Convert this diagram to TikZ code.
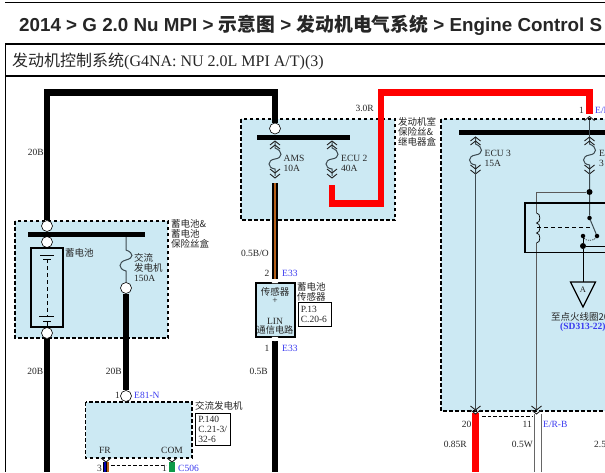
\documentclass[tikz,border=0pt]{standalone}
\usepackage{fontspec}
\setmainfont{Liberation Serif}
\setsansfont{Liberation Sans}
\newfontfamily\cjk{Noto Sans CJK SC}
\usepackage{xcolor}
\definecolor{boxblue}{HTML}{CCE9F3}
\definecolor{labelblue}{HTML}{3A3AF0}
\definecolor{wirered}{HTML}{FF0000}
\definecolor{wirebrown}{HTML}{B5601A}
\definecolor{wiregreen}{HTML}{0E9A48}
\definecolor{wirefine}{HTML}{3C4A50}
\tikzset{
  sheetline/.style={line width=#1,black},
  dashbox/.style={draw=black,fill=boxblue,line width=1.2pt,dash pattern=on 3.5pt off 2.5pt},
  blackwire/.style={line width=6.5pt,black},
  redwire/.style={line width=6.5pt,wirered},
  finewire/.style={line width=1pt,wirefine},
  busbar/.style={line width=5pt,black},
  term/.style={circle,draw=black,fill=white,line width=0.6pt,minimum size=11pt,inner sep=0},
  jdot/.style={circle,fill=black,minimum size=#1,inner sep=0},
  txt/.style={anchor=west,inner sep=0,text=black!85,font=\fontsize{9.5}{10}\selectfont,align=left},
  txtr/.style={txt,anchor=east},
  txtc/.style={txt,anchor=center,align=center},
  pin/.style={txt,text=labelblue},
  refbox/.style={draw=black,fill=white,line width=0.7pt},
  chevup/.pic={\draw[line width=0.9pt,black!85] (-5,4) -- (0,0) -- (5,4);},
  chevdown/.pic={\draw[line width=0.9pt,black!85] (-5,-4) -- (0,0) -- (5,-4);},
  fuse/.pic={
    \draw[finewire] (0,0) -- (0,7) .. controls (8,10) and (8,17) .. (0,18)
      .. controls (-8,19) and (-8,27) .. (0,28) -- (0,35);
    \pic at (0,0) {chevup};
    \pic at (0,4) {chevup};
    \pic at (0,32) {chevdown};
    \pic at (0,37) {chevdown};
  }
}
\begin{document}
\begin{tikzpicture}[x=1pt,y=-1pt]
\clip (0,0) rectangle (605,472);
\fill[white] (0,0) rectangle (605,472);
\draw[sheetline=1pt] (5,2.5) -- (605,2.5);
\draw[sheetline=1.5pt] (5,44) -- (605,44);
\draw[sheetline=2pt] (5,76) -- (605,76);
\draw[sheetline=0.8pt] (5.5,44) -- (5.5,472);
\node[anchor=west,inner sep=0,text=black!85,font=\sffamily\bfseries\fontsize{18.8}{19}\selectfont] (title) at (19,25) {2014 > G 2.0 Nu MPI > {\cjk 示意图} > {\cjk 发动机电气系统} > Engine Control S};
\node[anchor=west,inner sep=0,text=black!85,font=\fontsize{16}{17}\selectfont] (subtitle) at (12,61.5) {{\cjk 发动机控制系统}(G4NA: NU 2.0L MPI A/T)(3)};

\draw[dashbox] (241,119) rectangle (395,220);
\draw[dashbox] (15,221) rectangle (168,338);
\draw[dashbox] (441,119) rectangle (620,411);
\draw[dashbox] (85.5,402) rectangle (192,458);

\node[term] (batin) at (47,226) {};
\node[term] (batbus) at (47,242) {};
\node[term] (batout) at (47,333) {};
\node[term] (altfuse) at (126,288) {};
\node[term] (altpin) at (126,396) {};
\node[term] (amsin) at (275,128.5) {};
\coordinate (cornerA) at (47,92.5);
\coordinate (cornerB) at (275,92.5);
\coordinate (ecuout) at (332,185);
\coordinate (cornerC) at (332,203.5);
\coordinate (cornerD) at (381,203.5);
\coordinate (cornerE) at (381,92.5);
\coordinate (cornerF) at (589.5,92.5);
\coordinate (erin) at (589.5,114);
\coordinate (amsout) at (275,183);
\coordinate (sensin) at (275,279);
\coordinate (sensout) at (275,341);
\coordinate (ecuthreeend) at (475.5,411);
\coordinate (coilend) at (536.5,411);
\coordinate (frend) at (106,462);
\coordinate (comend) at (172,462);

\draw[blackwire] (batin) -- (cornerA) -- (cornerB) -- (amsin);
\draw[blackwire] (batout) -- (47,472);
\draw[blackwire] (altfuse) -- (altpin);
\draw[blackwire] (sensout) -- (275,472);
\draw[blackwire] (amsout) -- (sensin);
\draw[line width=2.4pt,wirebrown] (amsout) -- (sensin);
\draw[redwire,line join=miter] (ecuout) -- (cornerC) -- (cornerD) -- (cornerE) -- (cornerF) -- (erin);
\draw[redwire] (475.5,413) -- (475.5,472);
\draw[line width=0.7pt,black!60] (534.3,414) -- (534.3,472);
\draw[line width=0.7pt,black!60] (541,414) -- (541,472);
\draw[line width=6pt,black] (frend) -- (106,472);
\draw[line width=2pt,blue!70!black] (104.5,462) -- (104.5,472);
\draw[line width=2pt,wirebrown] (107.5,462) -- (107.5,472);
\draw[line width=6pt,wiregreen] (comend) -- (172,472);
\draw[line width=0.7pt,dash pattern=on 3.5pt off 2pt] (111,465) -- (166,465);
\draw[line width=0.7pt,dash pattern=on 3.5pt off 2pt] (482,416) -- (533,416);

\draw[busbar] (257,137) -- (350,137);
\draw[busbar] (28,234.5) -- (145,234.5);
\draw[busbar] (459,132.5) -- (605,132.5);

\pic at (275,141) {fuse};
\pic at (332,141) {fuse};
\pic at (475.5,137) {fuse};
\pic at (589.5,137) {fuse};
\pic at (589.5,116.5) {chevup};
\draw[finewire] (589.5,120) -- (589.5,137);
\draw[finewire] (126,237) -- (126,250) .. controls (134,253) and (134,258) .. (126,260) .. controls (118,262) and (118,269) .. (126,271) -- (altfuse);

\draw[line width=1.2pt,fill=boxblue] (256,283) rectangle (295,337);
\draw[fill=white,white] (272,283) -- (275,279.5) -- (278,283) -- cycle;
\draw[fill=white,white] (272,337) -- (275,341) -- (278,337) -- cycle;

\draw[line width=1.2pt] (31,248) rectangle (63,327);
\draw[line width=0.7pt] (40,255.5) -- (54,255.5);
\draw[line width=0.7pt] (43,259) -- (51,259);
\draw[line width=0.7pt,dash pattern=on 4pt off 3pt] (47,259) -- (47,316);
\draw[line width=0.7pt] (39,316) -- (54,316);
\draw[line width=0.7pt] (43,321) -- (51,321);
\draw[line width=0.7pt] (47,321) -- (47,327);

\node[jdot=6pt] (relayfeed) at (589.5,192) {};
\node[jdot=4.5pt] (swtop) at (589.5,218) {};
\node[jdot=4.5pt] (swend) at (597,236) {};
\node[jdot=4.5pt] (swrest) at (583,236) {};
\node[jdot=6pt] (swout) at (583,246) {};
\coordinate (relaycorner) at (536.5,192);
\coordinate (coiltop) at (536.5,213);
\coordinate (coilbot) at (536.5,243);
\coordinate (gndtop) at (583,282);
\draw[finewire] (475.5,172) -- (ecuthreeend);
\draw[line width=1pt,black!65] (relayfeed) -- (relaycorner) -- (coiltop);
\draw[line width=1pt,black!65] (coilbot) -- (coilend);
\draw[finewire] (589.5,172) -- (relayfeed) -- (swtop) -- (swend);
\draw[line width=1.3pt] (525,203) rectangle (620,252.7);
\draw[line width=0.7pt] (coiltop) .. controls (541,213) and (541,223) .. (536.5,223) .. controls (541,223) and (541,233) .. (536.5,233) .. controls (541,233) and (541,243) .. (coilbot);
\draw[line width=0.7pt,dash pattern=on 4pt off 3pt] (537,227) -- (590,227);
\draw[line width=0.6pt,dash pattern=on 1.2pt off 1pt] (swrest) .. controls (585,241) and (594,241) .. (swend);
\draw[line width=0.9pt] (swout) -- (620,246);
\draw[line width=0.9pt] (swrest) -- (swout);
\draw[line width=1.2pt,line join=miter] (570.5,282) -- (595.5,282) -- (583,307) -- cycle;
\node[txtc,font=\fontsize{8.5}{9}\selectfont] (coilgndlbl) at (583,290) {A};
\draw[line width=0.9pt] (swout) -- (gndtop);

\pic at (475.5,410) {chevdown};
\pic at (536.5,410) {chevdown};
\pic at (475.5,414) {chevdown};
\pic at (536.5,414) {chevdown};
\pic at (106,462) {chevdown};
\pic at (172,462) {chevdown};

\node[txtr] (ltwenty) at (44,152) {20B};
\node[txtr] (rcur) at (374,108.5) {3.0R};
\node[txt] (boxengine) at (398,131.5) {{\cjk 发动机室}\\{\cjk 保险丝\&}\\{\cjk 继电器盒}};
\node[txt] (amslbl) at (283.5,163) {AMS\\10A};
\node[txt] (ecutwolbl) at (341,163) {ECU 2\\40A};
\node[txt] (ecuthreelbl) at (484.5,158.5) {ECU 3\\15A};
\node[txt] (ecuonelbl) at (599,158.5) {E\\3};
\node[txtr] (erone) at (584,110) {1};
\node[pin] (erpin) at (595,110) {E/R};
\node[txt] (batbox) at (171,233.5) {{\cjk 蓄电池\&}\\{\cjk 蓄电池}\\{\cjk 保险丝盒}};
\node[txt] (batlbl) at (65,253) {\cjk 蓄电池};
\node[txt] (altfuselbl) at (134,267.5) {{\cjk 交流}\\{\cjk 发电机}\\150A};
\node[txtr] (lwiretwo) at (43.5,371) {20B};
\node[txtr] (altwire) at (122,371) {20B};
\node[txtr] (altone) at (120,395) {1};
\node[pin] (altname) at (134,395) {E81-N};
\node[txt] (altlbl) at (195,406) {\cjk 交流发电机};
\node[refbox,txt,anchor=north west,text width=29pt,inner sep=3pt,minimum height=32pt,text=black!85,fill=white,draw=black] (altref) at (195,413) {P.140\\C.21-3/\\32-6};
\node[txtc] (frlbl) at (105,450) {FR};
\node[txtc] (comlbl) at (172,450) {COM};
\node[txtr] (frone) at (102,468) {3};
\node[txtr] (comone) at (167,468) {1};
\node[pin] (compin) at (178,468) {C506};
\node[txtr] (amswire) at (269,253) {0.5B/O};
\node[txtr] (senstwo) at (269.5,273) {2};
\node[pin] (senstop) at (282,273) {E33};
\node[txtc] (sensa) at (275,292) {\cjk 传感器};
\node[txtc] (sensb) at (275,301) {+};
\node[txtc] (sensc) at (275,321) {LIN};
\node[txtc,font=\fontsize{9.2}{9.6}\selectfont] (sensd) at (275,330) {\cjk 通信电路};
\node[txtr] (sensone) at (269.5,348) {1};
\node[pin] (sensbot) at (282,348) {E33};
\node[txtr] (senswire) at (268,371) {0.5B};
\node[txt] (senslbl) at (297,291.5) {{\cjk 蓄电池}\\{\cjk 传感器}};
\node[refbox,txt,anchor=north west,text width=27pt,inner sep=3pt,minimum height=23.5pt,text=black!85,fill=white,draw=black] (sensref) at (297.5,302) {P.13\\C.20-6};
\node[txt] (coillbl) at (551,317) {\cjk 至点火线圈20};
\node[pin,font=\bfseries\fontsize{9.5}{9.6}\selectfont] (coilref) at (560,327) {(SD313-22)};
\node[txtr] (redtwenty) at (471.5,424) {20};
\node[txtr] (whiteeleven) at (532,424) {11};
\node[pin] (whitepin) at (543,424) {E/R-B};
\node[txtr] (redcur) at (467,444) {0.85R};
\node[txtr] (whitecur) at (533,444) {0.5W};
\node[txt] (lastcur) at (594,444) {2.5};
\end{tikzpicture}
\end{document}
